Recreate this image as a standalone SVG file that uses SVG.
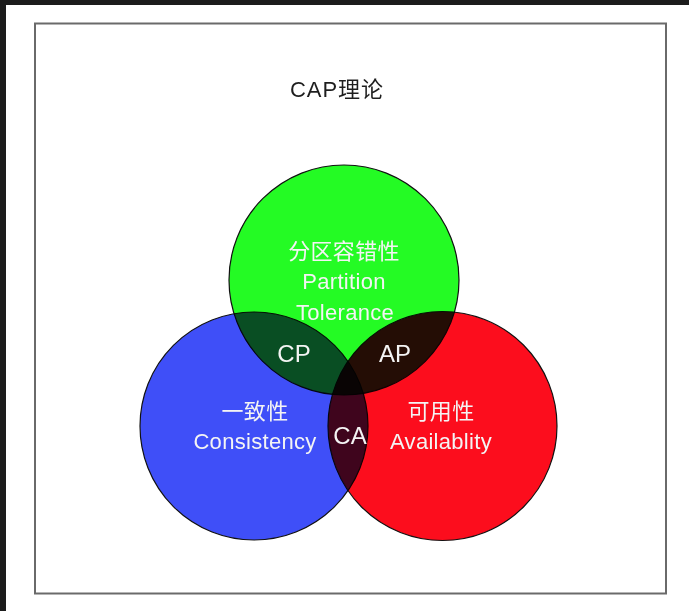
<svg xmlns="http://www.w3.org/2000/svg" width="689" height="611" viewBox="0 0 689 611">
  <style>
    .circle { stroke: #111; stroke-width: 1.2; mix-blend-mode: multiply; }
    .lbl { font-family: "Liberation Sans", "Noto Sans CJK SC", sans-serif; fill: #f4f4f4; text-anchor: middle; font-size: 22px; letter-spacing: 0.3px; }
    .big { font-size: 24px; letter-spacing: 0px; }
    .title { font-family: "Liberation Sans", "Noto Sans CJK SC", sans-serif; fill: #1e1e1e; font-size: 22px; text-anchor: middle; letter-spacing: 1px; }
  </style>
  <rect x="0" y="0" width="689" height="611" fill="#ffffff"/>
  <rect x="0" y="0" width="689" height="5" fill="#1c1c1c"/>
  <rect x="0" y="0" width="6" height="611" fill="#1c1c1c"/>
  <rect id="frame" x="35" y="23.5" width="631" height="570" fill="#ffffff" stroke="#6a6a6a" stroke-width="2"/>
  <g id="title"><text class="title" x="337" y="97">CAP理论</text></g>
  <g id="venn" style="isolation:isolate">
    <g id="partition"><circle class="circle" cx="344" cy="280" r="115" fill="#24fb24"/></g>
    <g id="consistency"><circle class="circle" cx="254" cy="426" r="114" fill="#3f4ff8"/></g>
    <g id="availability"><circle class="circle" cx="442.5" cy="426" r="114.5" fill="#fc0d1d"/></g>
  </g>
  <g id="connectors"/>
  <g id="labels">
    <text class="lbl" x="344" y="259">分区容错性</text>
    <text class="lbl" x="344" y="289">Partition</text>
    <text class="lbl" x="345" y="320">Tolerance</text>
    <text class="lbl big" x="294" y="362">CP</text>
    <text class="lbl big" x="395" y="362">AP</text>
    <text class="lbl big" x="350" y="444">CA</text>
    <text class="lbl" x="255" y="419">一致性</text>
    <text class="lbl" x="255" y="449">Consistency</text>
    <text class="lbl" x="441" y="419">可用性</text>
    <text class="lbl" x="441" y="449">Availablity</text>
  </g>
</svg>
